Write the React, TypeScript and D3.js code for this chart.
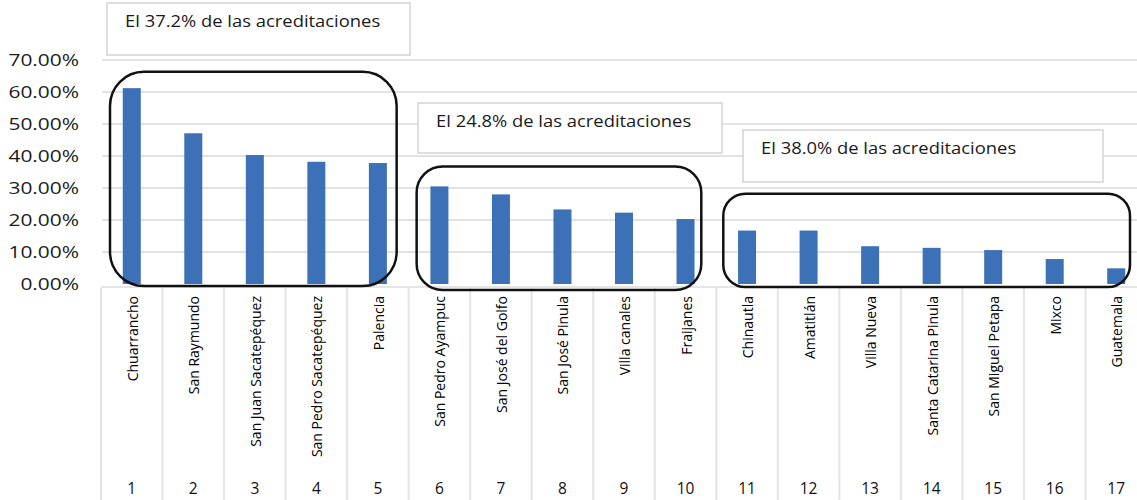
import React from "react";
import * as d3 from "d3";

const categories = [
  "Chuarrancho", "San Raymundo", "San Juan Sacatepéquez", "San Pedro Sacatepéquez", "Palencia",
  "San Pedro Ayampuc", "San José del Golfo", "San José Pinula", "Villa canales", "Fraijanes",
  "Chinautla", "Amatitlán", "Villa Nueva", "Santa Catarina Pinula", "San Miguel Petapa", "Mixco", "Guatemala",
];
const ranks = ["1", "2", "3", "4", "5", "6", "7", "8", "9", "10", "11", "12", "13", "14", "15", "16", "17"];
const values = [
  0.612, 0.471, 0.403, 0.382, 0.378,
  0.305, 0.280, 0.233, 0.223, 0.203,
  0.167, 0.167, 0.118, 0.113, 0.106, 0.078, 0.049,
];
const yTicks = [0, 0.1, 0.2, 0.3, 0.4, 0.5, 0.6, 0.7];

// groups: first index, last index, label, top value of rounded frame
const groupStart = [0, 5, 10];
const groupEnd = [4, 9, 16];
const groupLabels = [
  "El 37.2% de las acreditaciones",
  "El 24.8% de las acreditaciones",
  "El 38.0% de las acreditaciones",
];
const groupTop = [0.663, 0.367, 0.282];

const W = 1137;
const H = 500;

export default function App() {
  const x = d3.scaleBand<number>().domain(d3.range(categories.length)).range([101, 1147]).padding(0);
  const y = d3.scaleLinear().domain([0, 0.7]).range([284, 60]);
  const bw = 18;
  const fmt = d3.format(".2%");

  const boxes = [
    { x0: 107, x1: 410, y0: 3, y1: 55 },
    { x0: 418, x1: 722, y0: 103, y1: 153 },
    { x0: 743, x1: 1103, y0: 130, y1: 182 },
  ];
  const frameInset = [
    { l: 9, r: 12, b: 2, rx: 34 },
    { l: 8, r: 15, b: 6, rx: 26 },
    { l: 7, r: 17, b: 3, rx: 22 },
  ];

  return (
    <svg width={W} height={H} style={{ position: "absolute", left: 0, top: 0, background: "#fff" }}
      fontFamily="'Open Sans', sans-serif">
      {yTicks.slice(1).map((t) => (
        <line key={t} x1={102} x2={W} y1={y(t)} y2={y(t)} stroke="#e2e2e2" strokeWidth={2} />
      ))}
      <line x1={101} x2={W} y1={y(0) + 3} y2={y(0) + 3} stroke="#dcdcdc" strokeWidth={1.5} />
      {d3.range(categories.length + 1).map((i) => {
        const xx = i < categories.length ? x(i)! : x(categories.length - 1)! + x.bandwidth();
        return <line key={i} x1={xx} x2={xx} y1={y(0) + 4} y2={H} stroke="#e4e4e4" strokeWidth={2} />;
      })}
      {yTicks.map((t) => (
        <text key={t} transform={`translate(79,${y(t)}) scale(1.23,1)`} dy="0.36em" textAnchor="end"
          fontSize={17} fill="#1a1a1a" fontWeight={500}>
          {fmt(t)}
        </text>
      ))}
      {values.map((v, i) => (
        <rect key={i} x={x(i)! + x.bandwidth() / 2 - bw / 2} y={y(v)} width={bw} height={y(0) - y(v)}
          fill="#3c71b8" />
      ))}
      {categories.map((c, i) => {
        const cx = x(i)! + x.bandwidth() / 2;
        return (
          <text key={c} transform={`translate(${cx + 6},${296}) rotate(-90)`} textAnchor="end"
            fontSize={14} fill="#000" fontWeight={500}>
            {c}
          </text>
        );
      })}
      {ranks.map((r, i) => (
        <text key={r} x={x(i)! + x.bandwidth() / 2} y={494} textAnchor="middle" fontSize={15.5}
          fill="#111" fontWeight={500}>
          {r}
        </text>
      ))}
      {groupStart.map((s, g) => {
        const x0 = x(s)! + frameInset[g].l;
        const x1 = x(groupEnd[g])! + x.bandwidth() - frameInset[g].r;
        const y0 = y(groupTop[g]);
        const y1 = y(0) + frameInset[g].b;
        return (
          <rect key={g} x={x0} y={y0} width={x1 - x0} height={y1 - y0} rx={frameInset[g].rx}
            ry={frameInset[g].rx} fill="none" stroke="#111" strokeWidth={2.5} />
        );
      })}
      {boxes.map((b, g) => (
        <g key={g}>
          <rect x={b.x0} y={b.y0} width={b.x1 - b.x0} height={b.y1 - b.y0} fill="#fff"
            stroke="#d4d4d4" strokeWidth={1.5} />
          <text transform={`translate(${b.x0 + 18},${b.y0 + 24}) scale(1.15,1)`} fontSize={16}
            fill="#1a1a1a" fontWeight={500}>
            {groupLabels[g]}
          </text>
        </g>
      ))}
    </svg>
  );
}
